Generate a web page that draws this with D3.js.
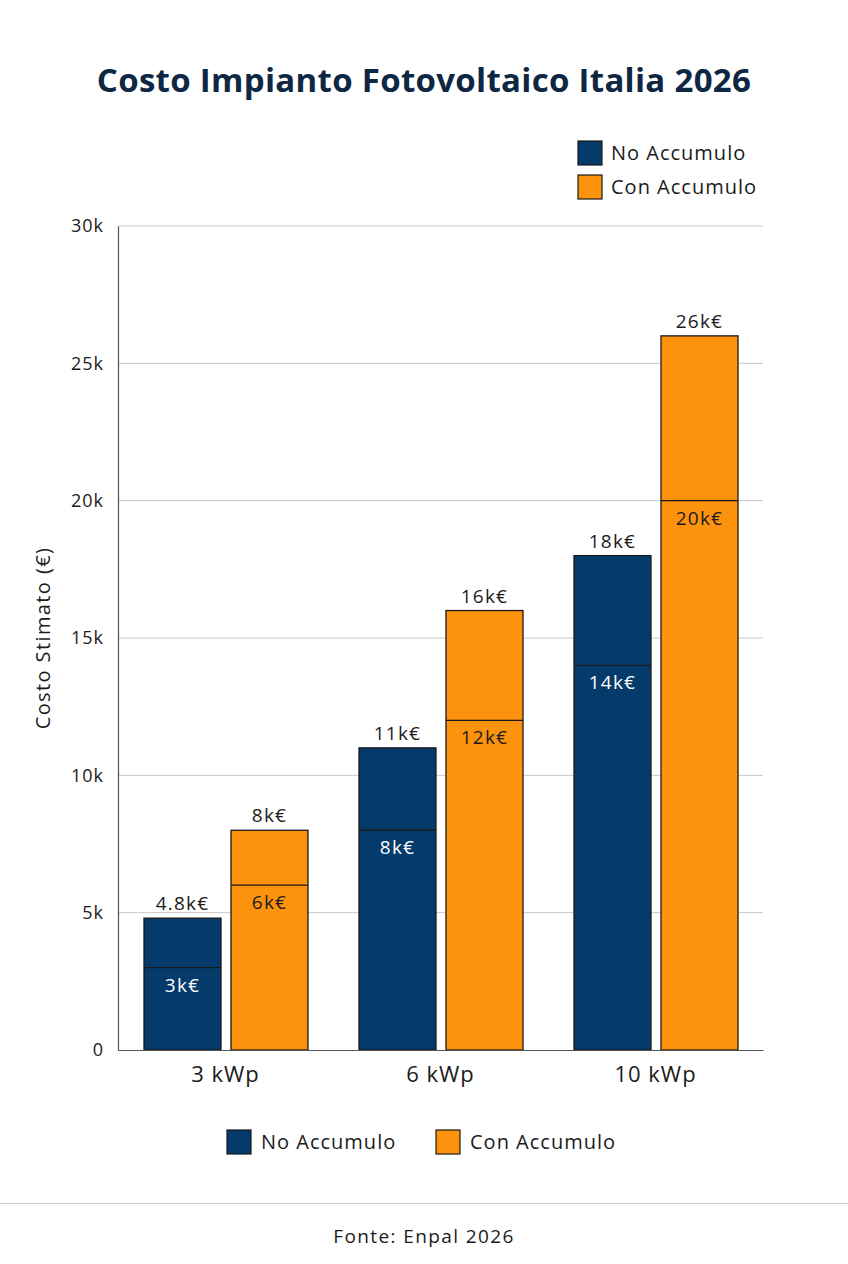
<!DOCTYPE html>
<html>
<head>
<meta charset="utf-8">
<script src="https://cdn.jsdelivr.net/npm/d3@7"></script>
<style>
  body { margin: 0; background: #ffffff; }
  svg { display: block; font-family: "Open Sans", Lato, sans-serif; }
</style>
</head>
<body>
<div id="chart"></div>
<script>
// data
var sizes = ["3 kWp", "6 kWp", "10 kWp"];
var seriesNames = ["No Accumulo", "Con Accumulo"];
var noAccMin = [3000, 8000, 14000];
var noAccMax = [4800, 11000, 18000];
var conAccMin = [6000, 12000, 20000];
var conAccMax = [8000, 16000, 26000];
var minLabels = [["3k€", "8k€", "14k€"], ["6k€", "12k€", "20k€"]];
var maxLabels = [["4.8k€", "11k€", "18k€"], ["8k€", "16k€", "26k€"]];
var yTicks = [0, 5000, 10000, 15000, 20000, 25000, 30000];

var WIDTH = 848, HEIGHT = 1264;
var MARGINS = { top: 226, bottom: 214, left: 118, right: 85 };
var colors = ["#053b6b", "#fd930c"];
var textDark = "#1b1b1b";

var svg = d3.select("#chart").append("svg")
  .attr("width", WIDTH)
  .attr("height", HEIGHT);

// title
svg.append("text")
  .attr("x", WIDTH / 2).attr("y", 92)
  .attr("text-anchor", "middle")
  .style("font-size", "33px").style("font-weight", "700")
  .style("letter-spacing", "0.3px")
  .style("fill", "#0e2743")
  .text("Costo Impianto Fotovoltaico Italia 2026");

var xScale = d3.scaleBand().domain(sizes)
  .range([MARGINS.left, WIDTH - MARGINS.right]);
var xInner = d3.scaleBand().domain(seriesNames)
  .range([26, xScale.bandwidth() - 25]).paddingInner(0.115);
var yScale = d3.scaleLinear().domain([0, 30000])
  .range([HEIGHT - MARGINS.bottom, MARGINS.top]);

// grid
svg.append("g").selectAll("line").data(yTicks.slice(1)).enter().append("line")
  .attr("x1", MARGINS.left).attr("x2", WIDTH - MARGINS.right)
  .attr("y1", function(d) { return yScale(d); })
  .attr("y2", function(d) { return yScale(d); })
  .attr("stroke", "#c9c9c9").attr("stroke-width", 1);

// y axis
var yAxis = svg.append("g")
  .attr("transform", "translate(" + MARGINS.left + ",0)")
  .call(d3.axisLeft(yScale).tickValues(yTicks).tickSize(0).tickPadding(14)
    .tickFormat(function(d) { return d === 0 ? "0" : (d / 1000) + "k"; }));
yAxis.select(".domain").attr("stroke", "#555").attr("stroke-width", 1.2);
yAxis.selectAll("text").style("font-size", "18px").style("fill", textDark)
  .style("letter-spacing", "1px")
  .style("font-family", "'Open Sans', sans-serif");

svg.append("text")
  .attr("transform", "translate(50," + (yScale(15000)) + ") rotate(-90)")
  .attr("text-anchor", "middle")
  .style("font-size", "20px").style("fill", textDark)
  .style("letter-spacing", "1.4px")
  .text("Costo Stimato (€)");

// bars
var bars = [];
sizes.forEach(function(s, i) {
  bars.push({ size: s, series: 0, min: noAccMin[i], max: noAccMax[i], minLabel: minLabels[0][i], maxLabel: maxLabels[0][i] });
  bars.push({ size: s, series: 1, min: conAccMin[i], max: conAccMax[i], minLabel: minLabels[1][i], maxLabel: maxLabels[1][i] });
});

var g = svg.append("g").selectAll("g").data(bars).enter().append("g")
  .attr("transform", function(d) { return "translate(" + (xScale(d.size) + xInner(seriesNames[d.series])) + ",0)"; });

g.append("rect")
  .attr("x", 0).attr("width", xInner.bandwidth())
  .attr("y", function(d) { return yScale(d.max); })
  .attr("height", function(d) { return yScale(0) - yScale(d.max); })
  .attr("fill", function(d) { return colors[d.series]; })
  .attr("stroke", "#1a1a1a").attr("stroke-width", 1.3);

g.append("line")
  .attr("x1", 0).attr("x2", xInner.bandwidth())
  .attr("y1", function(d) { return yScale(d.min); })
  .attr("y2", function(d) { return yScale(d.min); })
  .attr("stroke", "#1a1a1a").attr("stroke-width", 1.3);

g.append("text")
  .attr("x", xInner.bandwidth() / 2)
  .attr("y", function(d) { return yScale(d.max) - 8; })
  .attr("text-anchor", "middle")
  .style("font-size", "19px").style("fill", textDark)
  .style("letter-spacing", "1.2px")
  .text(function(d) { return d.maxLabel; });

g.append("text")
  .attr("x", xInner.bandwidth() / 2)
  .attr("y", function(d) { return yScale(d.min) + 24; })
  .attr("text-anchor", "middle")
  .style("font-size", "19px")
  .style("letter-spacing", "1.2px")
  .style("fill", function(d) { return d.series === 0 ? "#ffffff" : textDark; })
  .text(function(d) { return d.minLabel; });

// x axis
var xAxis = svg.append("g")
  .attr("transform", "translate(0," + yScale(0) + ")")
  .call(d3.axisBottom(xScale).tickSize(0).tickPadding(16));
xAxis.select(".domain").attr("stroke", "#555").attr("stroke-width", 1.2);
xAxis.selectAll("text").style("font-size", "22px").style("fill", textDark)
  .style("letter-spacing", "1px")
  .style("font-family", "'Open Sans', sans-serif");

// top legend
var legTop = svg.append("g").selectAll("g").data(seriesNames).enter().append("g")
  .attr("transform", function(d, i) { return "translate(578," + (141 + i * 34) + ")"; });
legTop.append("rect").attr("width", 24).attr("height", 24)
  .attr("fill", function(d, i) { return colors[i]; })
  .attr("stroke", "#1a1a1a").attr("stroke-width", 1.2);
legTop.append("text").attr("x", 33).attr("y", 19)
  .style("font-size", "20px").style("fill", textDark)
  .style("letter-spacing", "1px")
  .text(function(d) { return d; });

// bottom legend
var legX = [227, 436];
var legBot = svg.append("g").selectAll("g").data(seriesNames).enter().append("g")
  .attr("transform", function(d, i) { return "translate(" + legX[i] + ",1130)"; });
legBot.append("rect").attr("width", 24).attr("height", 24)
  .attr("fill", function(d, i) { return colors[i]; })
  .attr("stroke", "#1a1a1a").attr("stroke-width", 1.2);
legBot.append("text").attr("x", 34).attr("y", 19)
  .style("font-size", "20px").style("fill", textDark)
  .style("letter-spacing", "1px")
  .text(function(d) { return d; });

// footer
svg.append("line")
  .attr("x1", 0).attr("x2", WIDTH).attr("y1", 1203.5).attr("y2", 1203.5)
  .attr("stroke", "#c8c8c8").attr("stroke-width", 1);
svg.append("text")
  .attr("x", WIDTH / 2).attr("y", 1243)
  .attr("text-anchor", "middle")
  .style("font-size", "19px").style("fill", textDark)
  .style("letter-spacing", "1.4px")
  .text("Fonte: Enpal 2026");
</script>
</body>
</html>
